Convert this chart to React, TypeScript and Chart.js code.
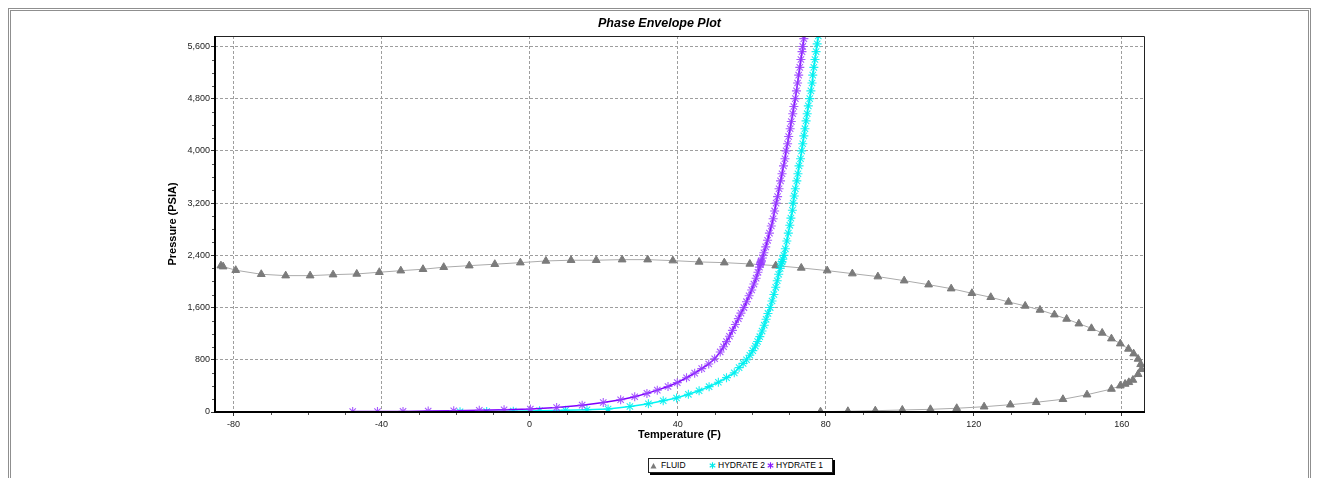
import React, { useEffect, useRef } from 'react';
import { Chart, registerables } from 'chart.js';

Chart.register(...registerables);

const FONT = "'Liberation Sans', Arial, Helvetica, sans-serif";

// ---------------- data ----------------
const fluidTemp = [
  -83.4, -82.8, -79.4, -72.5, -65.9, -59.3, -53.1, -46.7, -40.6, -34.8, -28.8, -23.2, -16.3, -9.4, -2.5,
  4.4, 11.2, 18.0, 25.0, 31.9, 38.7, 45.8, 52.6, 59.5, 66.5, 73.4, 80.4, 87.2, 94.1, 101.2, 107.8,
  113.9, 119.5, 124.6, 129.4, 133.9, 137.9, 141.8, 145.1, 148.4, 151.8, 154.7, 157.2, 159.6, 161.8,
  163.2, 164.4, 165.1, 165.3, 164.4, 163.0, 161.9, 160.9, 159.6, 157.2, 150.6, 144.1, 136.9, 129.9,
  122.8, 115.4, 108.3, 100.7, 93.4, 86.0, 78.6,
];
const fluidPress = [
  2242, 2227, 2172, 2110, 2089, 2089, 2104, 2115, 2141, 2165, 2187, 2218, 2242, 2264, 2288,
  2314, 2325, 2325, 2334, 2334, 2319, 2299, 2288, 2268, 2242, 2207, 2166, 2120, 2074, 2012, 1951,
  1890, 1819, 1758, 1686, 1625, 1563, 1491, 1425, 1353, 1282, 1211, 1124, 1047, 966,
  894, 812, 731, 654, 578, 490, 455, 429, 403, 352, 265, 195, 149, 112,
  81, 57, 41, 31, 20, 11, 5,
];

const hydrate2Temp = [
  -18.8, -11.6, -4.4, 2.7, 9.7, 15.5, 21.2, 27.1, 32.1, 36.1, 39.7, 42.9, 45.8, 48.5, 51.0, 53.2,
  55.3, 56.6, 57.7, 58.6, 59.5, 60.3, 61.0, 61.6, 62.2, 62.8, 63.4, 63.9, 64.4, 65.0, 65.5, 66.0,
  66.5, 66.9, 67.3, 67.7, 68.0, 68.2, 68.4, 68.7, 69.1, 69.5, 69.9, 70.3, 70.6, 71.0, 71.2, 71.5,
  71.8, 72.2, 72.5, 72.8, 73.2, 73.5, 73.8, 74.1, 74.4, 74.7, 75.0, 75.3, 75.7, 76.0, 76.3, 76.5,
  76.8, 77.1, 77.4, 77.7, 78.0, 78.2, 78.4,
];
const hydrate2Press = [
  4, 8, 13, 19, 26, 34, 46, 85, 127, 173, 215, 271, 326, 388, 455, 526,
  600, 680, 745, 800, 870, 940, 1010, 1080, 1154, 1240, 1330, 1420, 1510, 1600, 1700, 1800,
  1910, 2010, 2110, 2200, 2270, 2300, 2340, 2400, 2500, 2620, 2740, 2860, 2970, 3090, 3200, 3310,
  3420, 3540, 3650, 3770, 3880, 4000, 4110, 4230, 4340, 4460, 4570, 4690, 4800, 4920, 5040, 5160,
  5280, 5400, 5520, 5640, 5760, 5880, 6000,
];

const hydrate1Temp = [
  -47.8, -41.1, -34.2, -27.4, -20.5, -13.6, -6.9, 0.2, 7.3, 14.2, 19.9, 24.6, 28.4, 31.7, 34.5, 37.4,
  39.9, 42.4, 44.6, 46.5, 48.4, 50.0, 51.5, 52.4, 53.2, 54.0, 54.8, 55.6, 56.4, 57.1, 57.9, 58.6,
  59.3, 60.0, 60.6, 61.2, 61.7, 62.1, 62.3, 62.4, 62.5, 62.6, 62.9, 63.3, 63.8, 64.3, 64.8, 65.3,
  65.8, 66.2, 66.6, 67.0, 67.4, 67.8, 68.2, 68.6, 69.0, 69.3, 69.7, 70.0, 70.4, 70.7, 71.1, 71.4,
  71.8, 72.1, 72.4, 72.7, 73.0, 73.3, 73.6, 73.8, 74.1, 74.4, 74.6,
];
const hydrate1Press = [
  8, 8, 9, 14, 19, 26, 34, 45, 68, 105, 145, 188, 233, 285, 335, 390,
  450, 525, 595, 665, 736, 815, 920, 1000, 1078, 1160, 1250, 1340, 1430, 1515, 1600, 1690,
  1780, 1870, 1960, 2050, 2140, 2220, 2260, 2280, 2295, 2310, 2360, 2440, 2530, 2630, 2740, 2850,
  2960, 3080, 3200, 3300, 3420, 3540, 3650, 3770, 3880, 4000, 4110, 4220, 4340, 4450, 4570, 4680,
  4800, 4920, 5040, 5160, 5280, 5400, 5520, 5600, 5720, 5840, 5960,
];

const seriesNames = ['FLUID', 'HYDRATE 2', 'HYDRATE 1'];

const xMin = -85;
const xMax = 166;
const xTicks = [-80, -40, 0, 40, 80, 120, 160];
const xMinorStep = 10;
const yMin = 0;
const yMax = 5760;
const yTicks = [0, 800, 1600, 2400, 3200, 4000, 4800, 5600];
const yMinorStep = 200;

const titleText = 'Phase Envelope Plot';
const xTitle = 'Temperature (F)';
const yTitle = 'Pressure (PSIA)';

function toPoints(xs: number[], ys: number[]) {
  return xs.map((x, i) => ({ x, y: ys[i] }));
}

const axisFramePlugin = {
  id: 'axisFrame',
  afterDraw(chart: any) {
    const { ctx, chartArea: a } = chart;
    const xs = chart.scales.x;
    const ys = chart.scales.y;
    ctx.save();
    // minor ticks
    ctx.strokeStyle = '#555';
    ctx.lineWidth = 1;
    ctx.beginPath();
    for (let v = Math.ceil(xMin / xMinorStep) * xMinorStep; v <= xMax; v += xMinorStep) {
      if (xTicks.includes(v)) continue;
      const px = Math.round(xs.getPixelForValue(v)) + 0.5;
      ctx.moveTo(px, a.bottom);
      ctx.lineTo(px, a.bottom + 3);
    }
    for (let v = yMin; v <= yMax; v += yMinorStep) {
      if (yTicks.includes(v)) continue;
      const py = Math.round(ys.getPixelForValue(v)) + 0.5;
      ctx.moveTo(a.left - 3, py);
      ctx.lineTo(a.left, py);
    }
    ctx.stroke();
    // thin top/right frame
    ctx.strokeStyle = '#222';
    ctx.lineWidth = 1;
    ctx.beginPath();
    ctx.moveTo(a.left, Math.round(a.top) + 0.5);
    ctx.lineTo(Math.round(a.right) + 0.5, Math.round(a.top) + 0.5);
    ctx.lineTo(Math.round(a.right) + 0.5, a.bottom);
    ctx.stroke();
    // thick left/bottom axes
    ctx.strokeStyle = '#000';
    ctx.lineWidth = 2;
    ctx.beginPath();
    ctx.moveTo(a.left, a.top);
    ctx.lineTo(a.left, a.bottom);
    ctx.lineTo(a.right + 1, a.bottom);
    ctx.stroke();
    ctx.restore();
  },
};

function Marker({ kind, color }: { kind: string; color: string }) {
  if (kind === 'triangle') {
    return (
      <svg width="7" height="7" viewBox="0 0 7 7" style={{ display: 'block' }}>
        <polygon points="3.5,1 6.5,6.5 0.5,6.5" fill={color} />
      </svg>
    );
  }
  return (
    <svg width="7" height="7" viewBox="0 0 7 7" style={{ display: 'block' }}>
      <g stroke={color} strokeWidth="1.2">
        <line x1="3.5" y1="0.3" x2="3.5" y2="6.7" />
        <line x1="0.7" y1="1.8" x2="6.3" y2="5.2" />
        <line x1="0.7" y1="5.2" x2="6.3" y2="1.8" />
      </g>
    </svg>
  );
}

export default function App() {
  const canvasRef = useRef<HTMLCanvasElement | null>(null);

  useEffect(() => {
    if (!canvasRef.current) return;
    const tickFont = { family: FONT, size: 9 };
    const titleFont = { family: FONT, size: 11, weight: 'bold' as const };
    const chart = new Chart(canvasRef.current, {
      type: 'scatter',
      data: {
        datasets: [
          {
            label: seriesNames[0],
            data: toPoints(fluidTemp, fluidPress),
            showLine: true,
            borderColor: '#ababab',
            borderWidth: 1,
            pointStyle: 'triangle',
            pointRadius: 4.5,
            pointBackgroundColor: '#7b7b7b',
            pointBorderColor: '#7b7b7b',
            pointBorderWidth: 1,
            tension: 0,
            order: 3,
          },
          {
            label: seriesNames[1],
            data: toPoints(hydrate2Temp, hydrate2Press),
            showLine: true,
            borderColor: '#00f4f4',
            borderWidth: 1.5,
            pointStyle: 'star',
            pointRadius: 4.5,
            pointBackgroundColor: 'rgba(0,0,0,0)',
            pointBorderColor: 'rgba(0,240,240,0.9)',
            pointBorderWidth: 1.1,
            tension: 0,
            order: 2,
          },
          {
            label: seriesNames[2],
            data: toPoints(hydrate1Temp, hydrate1Press),
            showLine: true,
            borderColor: '#7f00ff',
            borderWidth: 1.5,
            pointStyle: 'star',
            pointRadius: 4.5,
            pointBackgroundColor: 'rgba(0,0,0,0)',
            pointBorderColor: 'rgba(150,60,255,0.85)',
            pointBorderWidth: 1.1,
            tension: 0,
            order: 1,
          },
        ],
      },
      options: {
        responsive: false,
        maintainAspectRatio: false,
        animation: false,
        layout: { padding: 0 },
        plugins: {
          legend: { display: false },
          tooltip: { enabled: false },
          title: {
            display: true,
            text: titleText,
            color: '#000',
            font: { family: FONT, size: 12.5, weight: 'bold', style: 'italic' },
            padding: { top: 5, bottom: 5 },
          },
        },
        scales: {
          x: {
            type: 'linear',
            position: 'bottom',
            min: xMin,
            max: xMax,
            afterFit: (s: any) => {
              s.height = 39;
            },
            afterBuildTicks: (s: any) => {
              s.ticks = xTicks.map((v) => ({ value: v }));
            },
            ticks: { font: tickFont, color: '#222', padding: 3, maxRotation: 0, autoSkip: false },
            grid: { color: '#9e9e9e', lineWidth: 1, tickLength: 4, tickColor: '#333', tickBorderDash: [] },
            border: { display: false, dash: [3, 2] },
            title: { display: true, text: xTitle, color: '#000', font: titleFont, padding: { top: 0, bottom: 9 } },
          },
          y: {
            type: 'linear',
            position: 'left',
            min: yMin,
            max: yMax,
            afterFit: (s: any) => {
              s.width = 204;
            },
            afterBuildTicks: (s: any) => {
              s.ticks = yTicks.map((v) => ({ value: v }));
            },
            ticks: { font: tickFont, color: '#222', padding: 1, autoSkip: false },
            grid: { color: '#9e9e9e', lineWidth: 1, tickLength: 4, tickColor: '#333', tickBorderDash: [] },
            border: { display: false, dash: [3, 2] },
            title: { display: true, text: yTitle, color: '#000', font: titleFont, padding: { top: 155, bottom: 0 } },
          },
          yRight: {
            type: 'linear',
            position: 'right',
            display: true,
            afterFit: (s: any) => {
              s.width = 164;
            },
            grid: { display: false, drawTicks: false },
            ticks: { display: false },
            border: { display: false },
          },
        },
      },
      plugins: [axisFramePlugin],
    } as any);
    return () => chart.destroy();
  }, []);

  const legend = [
    { name: seriesNames[0], kind: 'triangle', color: '#7b7b7b', mx: 1, tx: 12 },
    { name: seriesNames[1], kind: 'star', color: '#00eaea', mx: 60, tx: 69 },
    { name: seriesNames[2], kind: 'star', color: '#8a1cff', mx: 118, tx: 127 },
  ];

  return (
    <>
      <style>{`html,body{overflow:hidden}`}</style>
      <div
        style={{
          position: 'relative',
          width: 1303,
          height: 500,
          boxSizing: 'border-box',
          border: '3px double #8f8f8f',
          background: '#fff',
        }}
      >
        <canvas
          ref={canvasRef}
          width={1297}
          height={440}
          style={{ position: 'absolute', left: 0, top: 0, width: 1297, height: 440, display: 'block' }}
        />
        <div
          style={{
            position: 'absolute',
            left: 637,
            top: 447,
            width: 183,
            height: 13,
            border: '1px solid #222',
            boxShadow: '2px 2px 0 #000',
            background: '#fff',
            fontFamily: FONT,
            fontSize: 8.5,
            lineHeight: '13px',
            color: '#000',
          }}
        >
          {legend.map((it) => (
            <React.Fragment key={it.name}>
              <span style={{ position: 'absolute', left: it.mx, top: 3 }}>
                <Marker kind={it.kind} color={it.color} />
              </span>
              <span style={{ position: 'absolute', left: it.tx, top: 0, whiteSpace: 'nowrap' }}>{it.name}</span>
            </React.Fragment>
          ))}
        </div>
      </div>
    </>
  );
}
